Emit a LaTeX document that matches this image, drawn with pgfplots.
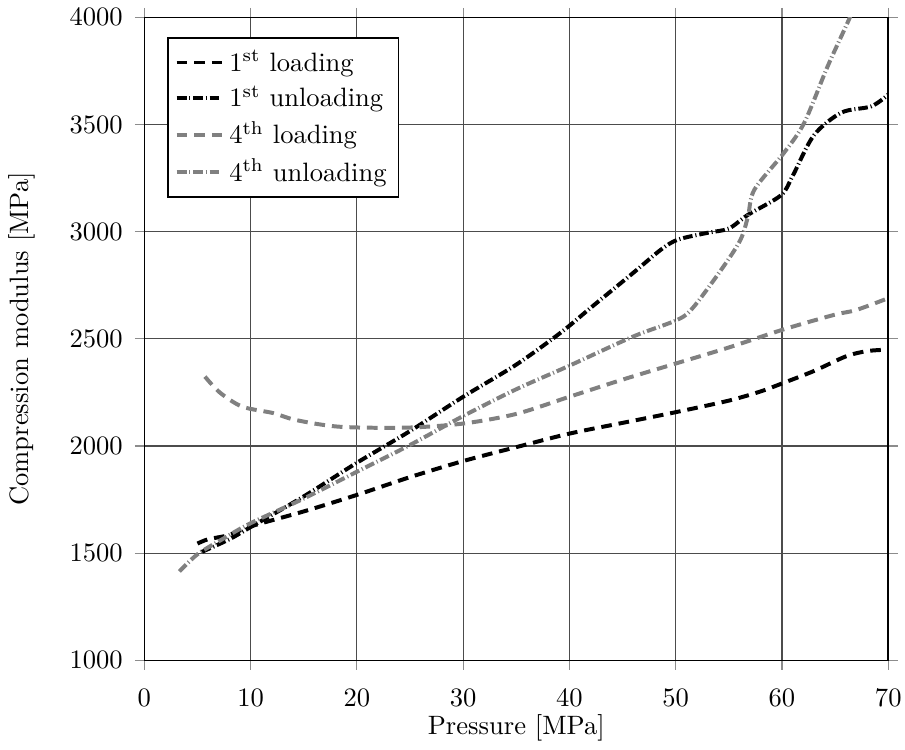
\documentclass[border=0pt]{standalone}
\usepackage{pgfplots}
\pgfplotsset{compat=1.18}
\begin{document}
\begin{tikzpicture}
\begin{axis}[
  scale only axis,
  width=280pt, height=242pt,
  xmin=0, xmax=70, ymin=1000, ymax=4000,
  xtick={0,10,...,70}, ytick={1000,1500,...,4000},
  /pgf/number format/1000 sep={},
  grid=major,
  major grid style={black!70, line width=0.45pt},
  tick align=outside,
  tick style={black!45, line width=0.45pt},
  major tick length=3.6pt,
  axis line style={black, line width=0.6pt},
  xlabel={Pressure [MPa]},
  ylabel={Compression modulus [MPa]},
  xlabel style={yshift=2pt},
  ylabel shift=6pt,
  xticklabel style={inner sep=1.3pt, yshift=-6pt},
  yticklabel style={xshift=-1pt},
  legend cell align=left,
  legend style={at={(0.031,0.969)}, anchor=north west, draw=black, line width=0.5pt, inner sep=2.5pt, row sep=0pt},
  legend image post style={line width=1.5pt},
]
\addplot[black, line width=1.5pt, dash pattern=on 4pt off 2.6pt, smooth] coordinates {
(5,1545) (6,1565) (8,1585) (10,1625) (15,1695) (20,1772) (25,1855) (30,1930) (35,1995) (40,2058) (45,2108) (50,2158) (55,2212) (58,2255) (60,2292) (63,2350) (66,2418) (68,2443) (70,2450)};
\addlegendentry{1\textsuperscript{st} loading}
\addplot[black, line width=1.5pt, dash pattern=on 3.6pt off 1.1pt on 0.4pt off 1.1pt, smooth] coordinates {
(5.4,1506) (8,1565) (10,1622) (15,1765) (20,1922) (25,2070) (30,2230) (35,2380) (39.2,2530) (42,2645) (46,2808) (48.6,2916) (50.2,2963) (53,2995) (55,3015) (56.8,3079) (59.9,3170) (61,3260) (63,3450) (65.6,3556) (68.4,3585) (70,3640)};
\addlegendentry{1\textsuperscript{st} unloading}
\addplot[black!50, line width=1.5pt, dash pattern=on 4pt off 2.6pt, smooth] coordinates {
(5.7,2324) (7.1,2250) (9.2,2184) (12.1,2154) (14.3,2121) (18.4,2090) (24.7,2086) (30,2105) (35,2150) (40,2230) (45,2310) (50,2385) (55,2460) (60.2,2545) (64.9,2612) (67,2635) (70,2690)};
\addlegendentry{4\textsuperscript{th} loading}
\addplot[black!50, line width=1.5pt, dash pattern=on 3.6pt off 1.1pt on 0.4pt off 1.1pt, smooth] coordinates {
(3.3,1415) (5,1495) (7.5,1570) (10,1640) (15,1755) (20,1880) (25,2005) (30,2140) (35,2265) (40,2375) (46,2511) (50.2,2590) (51.7,2650) (54.5,2838) (56.1,2963) (56.8,3071) (57.4,3196) (60.2,3369) (62.1,3509) (64.3,3772) (66.3,3990) (67,4080)};
\addlegendentry{4\textsuperscript{th} unloading}
\end{axis}
\end{tikzpicture}
\end{document}
